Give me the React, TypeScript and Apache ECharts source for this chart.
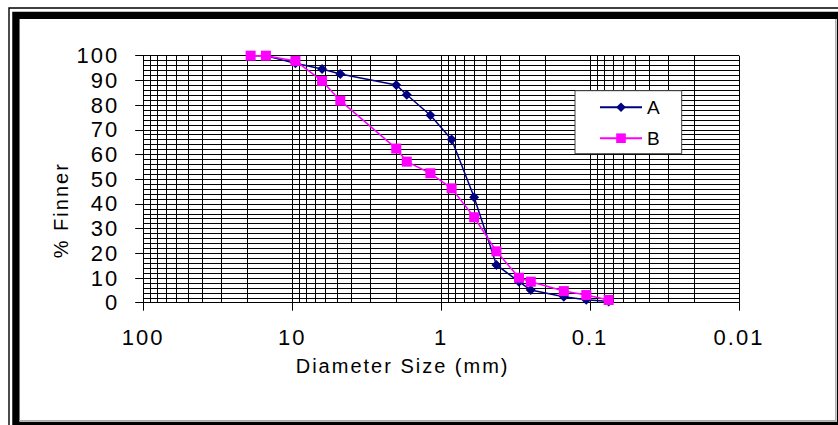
import React, { useEffect, useRef } from "react";
import * as echarts from "echarts";

// Sieve sizes (mm) and percent finer for each sample
const sieveSizes = [19, 15, 9.5, 6.3, 4.75, 2, 1.7, 1.18, 0.85, 0.6, 0.425, 0.3, 0.25, 0.15, 0.106, 0.075];
const finerA = [100, 100, 96.9, 94.6, 92.6, 88.1, 84.2, 75.9, 66.1, 42.7, 15.3, 8.5, 5.1, 2.4, 1.2, 0.5];
const finerB = [100, 100, 97.9, 89.8, 81.8, 62.4, 57.1, 52.4, 46.3, 34.6, 20.8, 10.1, 8.5, 4.7, 3.1, 1.1];

const seriesNames = ["A", "B"];
const xAxisTitle = "Diameter Size (mm)";
const yAxisTitle = "% Finner";

// Log-cycle gridlines within each decade
const decadeStarts = [0.01, 0.1, 1, 10];
const minorMultipliers = [2, 3, 4, 5, 6, 7, 8, 9];

const FONT = "'Liberation Sans', Arial, sans-serif";

export default function App() {
  const ref = useRef<HTMLDivElement>(null);

  useEffect(() => {
    if (!ref.current) return;
    const chart = echarts.init(ref.current, null, { renderer: "svg" });

    const minorX: number[] = [];
    decadeStarts.forEach((d) =>
      minorMultipliers.forEach((m) => minorX.push(parseFloat((d * m).toPrecision(3))))
    );

    const fmt = (v: number) => String(parseFloat(Number(v).toPrecision(4)));

    chart.setOption({
      animation: false,
      backgroundColor: "#ffffff",
      textStyle: { fontFamily: FONT, color: "#000" },
      grid: { left: 143.2, right: 99, top: 55.7, bottom: 122.3, containLabel: false },
      xAxis: {
        type: "log",
        logBase: 10,
        min: 0.01,
        max: 100,
        inverse: true,
        name: xAxisTitle,
        nameLocation: "middle",
        nameGap: 53,
        nameTextStyle: { fontSize: 20, color: "#000", fontFamily: FONT, padding: [0, 77, 0, 0] },
        axisLine: { show: true, lineStyle: { color: "#000", width: 1 } },
        axisTick: { show: true, length: 8, lineStyle: { color: "#000", width: 1 } },
        axisLabel: { fontSize: 22, color: "#000", fontFamily: FONT, margin: 24, formatter: fmt },
        splitLine: { show: true, lineStyle: { color: "#000", width: 1 } },
      },
      yAxis: {
        type: "value",
        min: 0,
        max: 100,
        interval: 10,
        name: yAxisTitle,
        nameLocation: "middle",
        nameGap: 72,
        nameTextStyle: { fontSize: 20, color: "#000", fontFamily: FONT, padding: [0, 62, 0, 0] },
        axisLine: { show: true, lineStyle: { color: "#000", width: 1 } },
        axisTick: { show: true, length: 8, lineStyle: { color: "#000", width: 1 } },
        axisLabel: { fontSize: 22, color: "#000", fontFamily: FONT, margin: 24 },
        splitLine: { show: true, lineStyle: { color: "#000", width: 1 } },
        minorTick: { show: false, splitNumber: 5 },
        minorSplitLine: { show: true, lineStyle: { color: "#000", width: 1 } },
      },
      legend: {
        data: seriesNames,
        orient: "vertical",
        left: 575,
        top: 90.7,
        backgroundColor: "#ffffff",
        borderColor: "#404040",
        borderWidth: 1,
        padding: [7, 22, 6, 24],
        itemWidth: 42,
        itemHeight: 12,
        itemGap: 12,
        textStyle: { fontSize: 19, color: "#000", fontFamily: FONT },
      },
      series: [
        {
          name: seriesNames[0],
          type: "line",
          data: sieveSizes.map((s, i) => [s, finerA[i]]),
          symbol: "diamond",
          symbolSize: 10,
          itemStyle: { color: "#000080" },
          lineStyle: { color: "#000080", width: 1.5 },
          z: 3,
          markLine: {
            silent: true,
            z: 1,
            symbol: ["none", "none"],
            label: { show: false },
            emphasis: { disabled: true },
            lineStyle: { color: "#000", width: 1, type: "solid" },
            data: minorX.map((v) => ({ xAxis: v })),
          },
        },
        {
          name: seriesNames[1],
          type: "line",
          data: sieveSizes.map((s, i) => [s, finerB[i]]),
          symbol: "rect",
          symbolSize: 10,
          itemStyle: { color: "#FF00FF" },
          lineStyle: { color: "#FF00FF", width: 1.5 },
          z: 4,
        },
      ],
      graphic: [
        {
          type: "rect",
          silent: true,
          shape: { x: 9, y: 8, width: 900, height: 500 },
          style: { fill: "none", stroke: "#000", lineWidth: 1.4 },
        },
        {
          type: "rect",
          silent: true,
          shape: { x: 15.9, y: 15.4, width: 824.7, height: 409.9 },
          style: { fill: "none", stroke: "#000", lineWidth: 7.3 },
        },
        {
          type: "line",
          silent: true,
          shape: { x1: 835.8, y1: 19, x2: 835.8, y2: 421 },
          style: { stroke: "#aaaaaa", lineWidth: 1.4 },
        },
        {
          type: "line",
          silent: true,
          shape: { x1: 19, y1: 420.6, x2: 836, y2: 420.6 },
          style: { stroke: "#aaaaaa", lineWidth: 1.4 },
        },
      ],
    });

    return () => chart.dispose();
  }, []);

  return (
    <div
      ref={ref}
      style={{
        position: "fixed",
        left: 0,
        top: 0,
        width: 838,
        height: 425,
        background: "#fff",
        letterSpacing: "2px",
      }}
    />
  );
}
